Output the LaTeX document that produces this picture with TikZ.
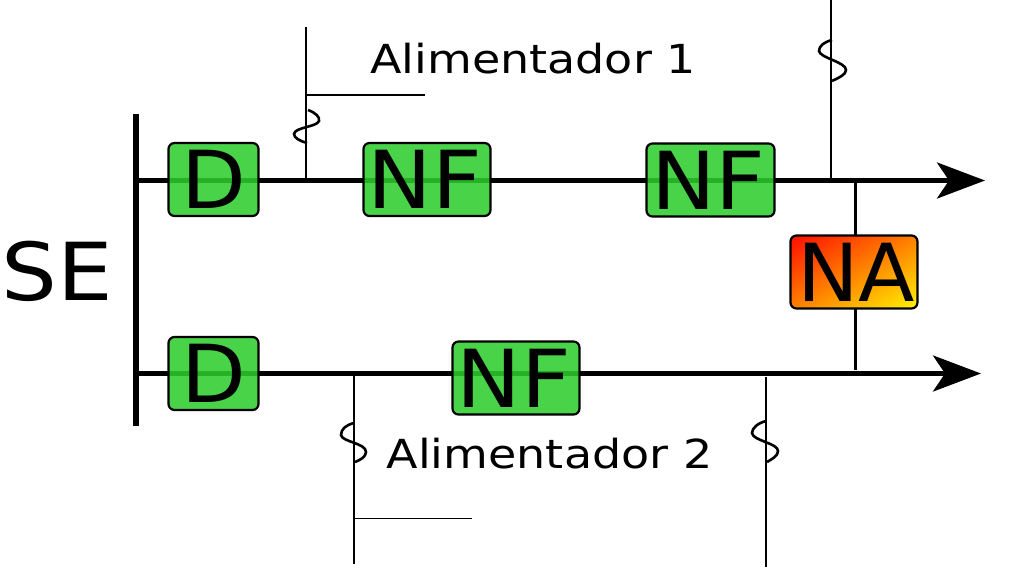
\documentclass[tikz,border=0pt]{standalone}
\usepackage{fontspec}
\setmainfont{DejaVu Sans}
\usetikzlibrary{arrows.meta,shadings}
\definecolor{boxgreen}{RGB}{45,204,45}
\definecolor{naorange}{RGB}{255,128,0}
\tikzset{
  x=1pt,y=-1pt,
  feeder/.style={line width=4.4pt,-{Stealth[length=48pt,width=36pt,inset=12pt]}},
  wire/.style={line width=1.6pt,black},
  thin wire/.style={line width=1.3pt,black},
  tie/.style={line width=3pt,black},
  squig/.style={line width=2.6pt,black},
  box/.style={draw=black,line width=2.2pt,rounded corners=6pt,inner sep=0pt,minimum height=73pt,font=\fontsize{80}{80}\selectfont},
  green box/.style={box,fill=boxgreen,fill opacity=.87,text opacity=1,minimum height=73pt},
  label/.style={inner sep=0pt,font=\fontsize{40}{40}\selectfont},
}
\pgfdeclareverticalshading{nagrad}{100bp}{
  color(0bp)=(red); color(12bp)=(red); color(50bp)=(naorange); color(88bp)=(yellow); color(100bp)=(yellow)}
\begin{document}
\begin{tikzpicture}
\useasboundingbox (0,0) rectangle (1032,568);
% coordinates
\coordinate (busT) at (136,114);
\coordinate (busB) at (136,426);
\coordinate (s1) at (136,180.5);
\coordinate (e1) at (985,180.5);
\coordinate (s2) at (136,373.5);
\coordinate (e2) at (981,373.5);
\coordinate (a1) at (306,27);
\coordinate (a2) at (306,180);
\coordinate (a3) at (306,95);
\coordinate (a4) at (425,95);
\coordinate (b1) at (831,0);
\coordinate (b2) at (831,183);
\coordinate (c1) at (354,373);
\coordinate (c2) at (354,564);
\coordinate (c3) at (353,518.5);
\coordinate (c4) at (471.5,518.5);
\coordinate (d1) at (766,377);
\coordinate (d2) at (766,567);
\coordinate (t1) at (855,180);
\coordinate (t2) at (855,370);
% lines
\draw[line width=6pt] (busT) -- (busB);
\draw[feeder] (s1) -- (e1);
\draw[feeder] (s2) -- (e2);
\draw[tie] (t1) -- (t2);
\draw[wire] (a1) -- (a2);
\draw[thin wire] (a3) -- (a4);
\draw[wire] (b1) -- (b2);
\draw[wire] (c1) -- (c2);
\draw[thin wire] (c3) -- (c4);
\draw[wire] (d1) -- (d2);
% squiggles
\draw[squig] (308,110) .. controls (316,113) and (320,117) .. (319,121) .. controls (317,127) and (295,127) .. (294,134) .. controls (294,138) and (300,141) .. (307,143);
\draw[squig] (832,40) .. controls (824,42) and (819,46) .. (819,51) .. controls (820,58) and (846,62) .. (846,70) .. controls (846,75) and (838,78) .. (832,81);
\draw[squig] (354,423) .. controls (346,425) and (341,429) .. (341,435) .. controls (342,442) and (366,443) .. (366,452) .. controls (366,457) and (360,460) .. (355,462);
\draw[squig] (766,421) .. controls (758,423) and (752,428) .. (752,433) .. controls (753,441) and (778,443) .. (778,451) .. controls (778,456) and (772,459) .. (767,462);
% boxes
\node[green box,minimum width=90pt] (D1) at (213.5,179.5) {\scalebox{1.05}[1]{D}};
\node[green box,minimum width=127pt] (NF1) at (427,179.5) {\scalebox{1.08}[1]{NF}\hspace*{4pt}};
\node[green box,minimum width=128pt] (NF2) at (710.5,180) {\scalebox{1.08}[1]{NF}\hspace*{4pt}};
\node[green box,minimum width=90pt] (D2) at (213.5,373.5) {\scalebox{1.05}[1]{D}};
\node[green box,minimum width=127pt] (NF3) at (516,378) {\scalebox{1.08}[1]{NF}\hspace*{4pt}};
\node[box,minimum width=127pt,shading=nagrad,shading angle=210] (NA) at (854,272) {\hspace*{4pt}\scalebox{1.03}[1]{NA}};
% labels
\node[inner sep=0pt,font=\fontsize{80}{80}\selectfont] (SE) at (57.5,271.5) {\scalebox{1.1}[1]{SE}};
\node[label] (L1) at (533,58.5) {\scalebox{1.15}[1]{Alimentador 1}};
\node[label] (L2) at (549.5,453.5) {\scalebox{1.15}[1]{Alimentador 2}};
\end{tikzpicture}
\end{document}
